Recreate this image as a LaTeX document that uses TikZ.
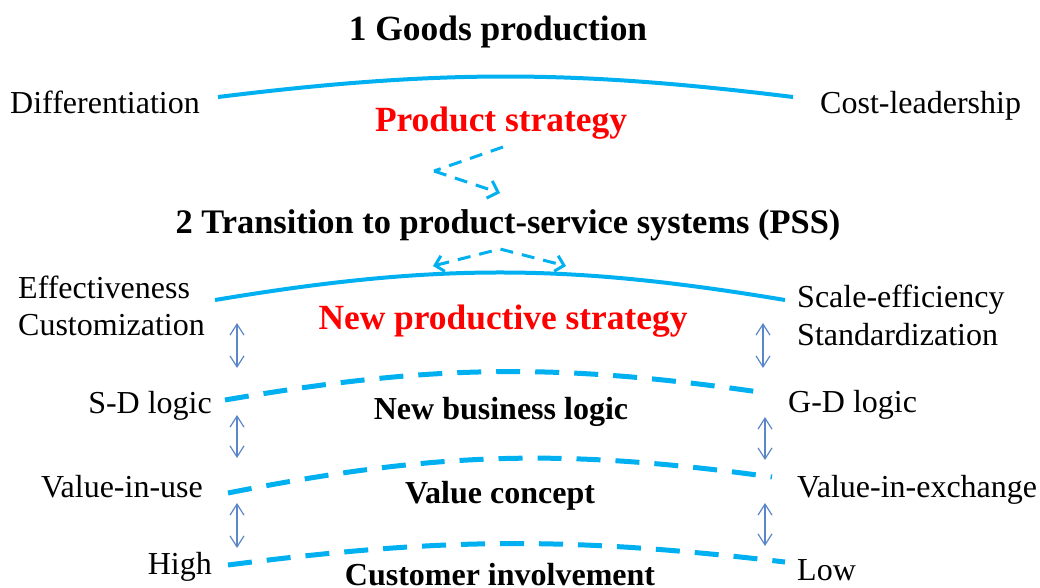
\documentclass[tikz,border=0pt]{standalone}
\usepackage{fontspec}
\setmainfont{Liberation Serif}
\usetikzlibrary{arrows.meta}
\definecolor{skyline}{HTML}{00B0F0}
\definecolor{steel}{HTML}{5B87C8}
\tikzset{
  lbl/.style={inner sep=0pt,font=\fontsize{32}{36}\selectfont},
  ttl/.style={inner sep=0pt,font=\fontsize{35.4}{40}\selectfont\bfseries},
  subttl/.style={inner sep=0pt,font=\fontsize{32}{36}\selectfont\bfseries},
  curve/.style={skyline,line width=4pt},
  dashcurve/.style={skyline,line width=5pt,dash pattern=on 24pt off 15pt},
  shiftarrow/.style={skyline,line width=3pt,dash pattern=on 13pt off 9pt},
  dbl/.style={steel,line width=1.2pt,{Straight Barb[length=11pt,width=14pt]}-{Straight Barb[length=11pt,width=14pt]}}
}
\begin{document}
\begin{tikzpicture}[x=1pt,y=-1pt]
  \useasboundingbox (0,0) rectangle (1040,587);
  % stage 1
  \node[ttl,anchor=base] (goods) at (498,40) {1 Goods production};
  \node[lbl,anchor=base west] (diff) at (10,113) {Differentiation};
  \node[lbl,anchor=base west] (cost) at (820,113) {Cost-leadership};
  \node[ttl,red,anchor=base] (prod) at (501,131) {Product strategy};
  \draw[curve] (218,97) to[bend left=7] (793,97);
  % shift between the stages
  \coordinate (s1) at (503,147);
  \coordinate (s2) at (434,171);
  \coordinate (s3) at (500,193);
  \draw[shiftarrow] (s1) -- (s2);
  \draw[shiftarrow,-{Straight Barb[length=9pt,width=18pt]}] (s2) -- (s3);
  % stage 2
  \node[ttl,anchor=base,font=\fontsize{34.4}{40}\selectfont\bfseries] (pss) at (508,233) {2 Transition to product-service systems (PSS)};
  \coordinate (t0) at (500,249);
  \coordinate (tl) at (433,266);
  \coordinate (tr) at (566,266);
  \draw[shiftarrow,{Straight Barb[length=8pt,width=16pt]}-{Straight Barb[length=8pt,width=16pt]}] (tl) -- (t0) -- (tr);
  \node[lbl,anchor=base west] (eff) at (18,298) {Effectiveness};
  \node[lbl,anchor=base west] (cust) at (18,335) {Customization};
  \node[lbl,anchor=base west] (scale) at (797,307) {Scale-efficiency};
  \node[lbl,anchor=base west] (stand) at (797,345) {Standardization};
  \node[ttl,red,anchor=base] (newprod) at (503,329) {New productive strategy};
  \draw[curve] (215,300) to[bend left=9.5] (785,300);
  % business logic
  \node[lbl,anchor=base east] (sd) at (212,413) {S-D logic};
  \node[lbl,anchor=base west] (gd) at (788,412) {G-D logic};
  \node[subttl,anchor=base] (logic) at (501,419) {New business logic};
  \draw[dashcurve] (225,400) to[bend left=9] (766,393);
  % value concept
  \node[lbl,anchor=base east] (inuse) at (203,497) {Value-in-use};
  \node[lbl,anchor=base west] (inexch) at (797,497) {Value-in-exchange};
  \node[subttl,anchor=base] (value) at (500,503) {Value concept};
  \draw[dashcurve] (228,493) to[bend left=9.5] (772,477);
  % customer involvement
  \node[lbl,anchor=base east] (high) at (212,574) {High};
  \node[lbl,anchor=base west] (low) at (797,580) {Low};
  \node[subttl,anchor=base] (invol) at (500,585) {Customer involvement};
  \draw[dashcurve] (228,565) to[bend left=7] (785,562);
  % trade-off arrows
  \foreach \n/\x/\ya/\yb in {la/237/323/368,lb/237/415/458,lc/237/503/548,
                             ra/763/323/368,rb/765/417/460,rc/765/503/546}{
    \coordinate (\n1) at (\x,\ya);
    \coordinate (\n2) at (\x,\yb);
    \draw[dbl] (\n1) -- (\n2);}
\end{tikzpicture}
\end{document}
